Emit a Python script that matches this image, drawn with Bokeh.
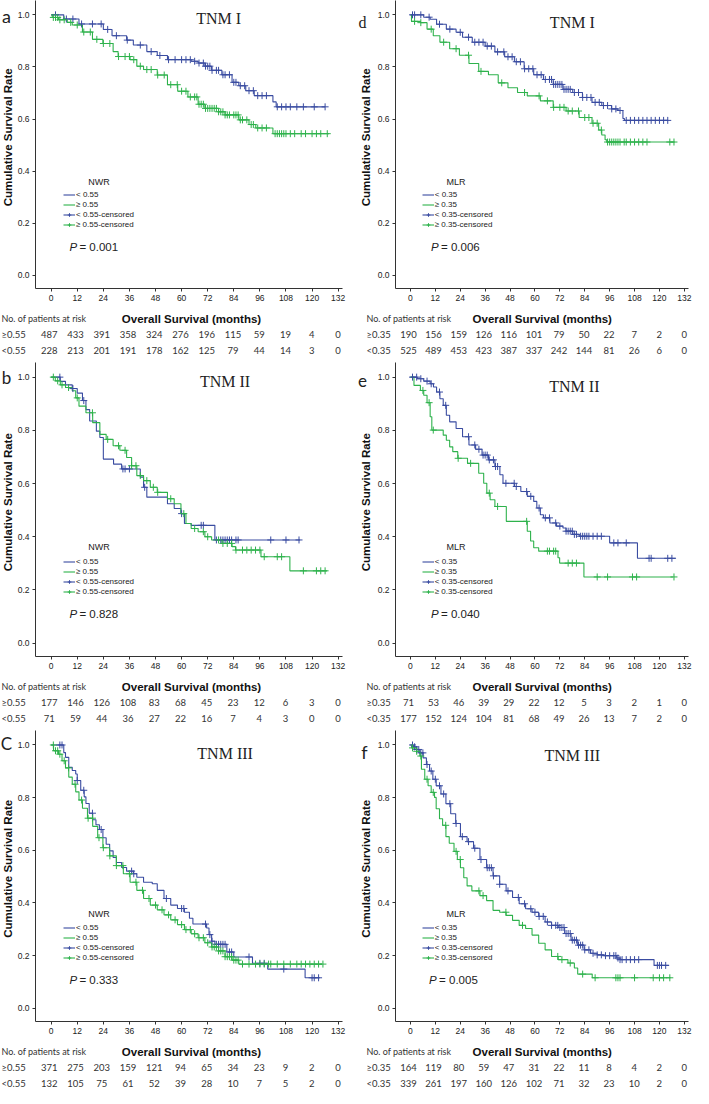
import numpy as np
from bokeh.plotting import figure
from bokeh.models import (Legend, LegendItem, Label, FixedTicker, NumeralTickFormatter, Range1d)
from bokeh.layouts import column, row
from bokeh.embed import file_html
from bokeh.resources import INLINE
from bokeh.core.properties import value

# ---------------- data ----------------
MONTH_TICKS = [0, 12, 24, 36, 48, 60, 72, 84, 96, 108, 120, 132]
SURV_TICKS = [0.0, 0.2, 0.4, 0.6, 0.8, 1.0]

# Panel a : NWR, TNM I
A_LOW_T = [0, 5.8, 12.8, 24, 28, 34.7, 37.8, 44, 48.8, 53.5, 64.4, 67.6, 70.7, 73.8, 78.5, 83.2, 86.3, 89.5, 93.4, 102, 103.5, 126]
A_LOW_S = [1.0, 0.984, 0.965, 0.944, 0.92, 0.903, 0.884, 0.859, 0.844, 0.828, 0.822, 0.815, 0.803, 0.787, 0.77, 0.741, 0.728, 0.709, 0.69, 0.666, 0.647, 0.647]
A_LOW_C = [2, 7, 10, 14, 19, 23, 26, 30, 35, 41, 46, 50, 54, 57, 60, 62, 64, 66, 68, 70, 71, 72, 73, 74, 76, 77, 79, 80, 82, 84, 85, 87, 89, 91, 93, 95, 97, 99, 104, 106, 108, 110, 113, 116, 121, 126]
A_HIGH_T = [0, 0.5, 3.4, 7.4, 9.7, 14.4, 19, 23.8, 28.5, 30.8, 36.3, 39.4, 42.5, 48.8, 53.5, 58.2, 62.9, 67.6, 70.7, 77, 80, 86.3, 91, 94.1, 102, 127.8]
A_HIGH_S = [1.0, 0.99, 0.981, 0.971, 0.961, 0.934, 0.906, 0.89, 0.859, 0.84, 0.828, 0.803, 0.79, 0.769, 0.732, 0.707, 0.685, 0.657, 0.641, 0.628, 0.616, 0.597, 0.579, 0.566, 0.544, 0.544]
A_HIGH_C = [1, 2, 3, 4, 6, 9, 12, 15, 18, 21, 24, 27, 31, 34, 36, 38, 41, 44, 46, 49, 52, 55, 58, 60, 62, 64, 66, 67, 68, 69, 70, 71, 72, 73, 74, 75, 76, 77, 78, 79, 80, 81, 82, 84, 85, 86, 87, 88, 90, 92, 93, 95, 97, 99, 103, 104, 105, 106, 107, 108, 110, 112, 115, 117, 120, 122, 124, 127]
A_RISK_HIGH = [487, 433, 391, 358, 324, 276, 196, 115, 59, 19, 4, 0]
A_RISK_LOW = [228, 213, 201, 191, 178, 162, 125, 79, 44, 14, 3, 0]

# Panel b : NWR, TNM II
B_LOW_T = [0, 4.2, 6.6, 9.7, 12, 14.4, 16, 17.7, 20.8, 22.4, 24, 28.7, 32.4, 41, 42.5, 44, 53.5, 56.6, 59.7, 61.3, 64.4, 75.3, 114.5]
B_LOW_S = [1.0, 0.984, 0.971, 0.957, 0.94, 0.912, 0.878, 0.835, 0.797, 0.773, 0.692, 0.673, 0.655, 0.624, 0.586, 0.549, 0.524, 0.506, 0.487, 0.45, 0.443, 0.388, 0.388]
B_LOW_C = [4, 10, 15, 33, 34, 36, 43, 60, 69, 70, 76, 78, 79, 80, 81, 82, 83, 85, 86, 101, 108, 114]
B_HIGH_T = [0, 1.9, 4.2, 6.6, 9.7, 11.3, 12.8, 16, 19.1, 22.4, 25.3, 28.5, 31.6, 34.7, 37, 39.4, 42.5, 45.6, 48.8, 53.5, 56.6, 59.7, 62, 64.4, 67.6, 70.7, 73.8, 78.5, 83.2, 84.8, 96.5, 109.8, 126.9]
B_HIGH_S = [1.0, 0.986, 0.971, 0.961, 0.949, 0.922, 0.891, 0.866, 0.829, 0.785, 0.766, 0.742, 0.725, 0.698, 0.667, 0.63, 0.611, 0.586, 0.567, 0.543, 0.524, 0.487, 0.45, 0.431, 0.419, 0.4, 0.388, 0.375, 0.363, 0.35, 0.325, 0.272, 0.272]
B_HIGH_C = [1, 3, 5, 8, 12, 19, 26, 31, 34, 37, 39, 41, 44, 47, 49, 55, 61, 66, 70, 72, 77, 79, 81, 83, 85, 88, 90, 92, 94, 96, 98, 104, 106, 116, 122, 124, 126]
B_RISK_HIGH = [177, 146, 126, 108, 83, 68, 45, 23, 12, 6, 3, 0]
B_RISK_LOW = [71, 59, 44, 36, 27, 22, 16, 7, 4, 3, 0, 0]

# Panel c : NWR, TNM III
C_LOW_T = [0, 5.8, 6.6, 8.1, 9.7, 11.3, 12, 13.6, 15.2, 16, 17.5, 19.1, 20.6, 22.2, 23.8, 25.3, 26.9, 28.5, 30, 32.4, 34.7, 37.8, 39.4, 42.5, 46.5, 48.8, 51.9, 55, 58.1, 61.3, 63.6, 65.2, 71.5, 72.6, 73.8, 75.3, 80.8, 84, 92.6, 99.6, 116.8, 123.6]
C_LOW_S = [1.0, 0.971, 0.953, 0.915, 0.903, 0.89, 0.865, 0.828, 0.803, 0.778, 0.741, 0.716, 0.697, 0.679, 0.648, 0.623, 0.598, 0.573, 0.554, 0.535, 0.521, 0.511, 0.498, 0.479, 0.473, 0.448, 0.417, 0.392, 0.379, 0.365, 0.342, 0.32, 0.305, 0.28, 0.255, 0.243, 0.214, 0.195, 0.171, 0.149, 0.116, 0.116]
C_LOW_C = [4, 5, 12, 15, 19, 23, 37, 38, 53, 60, 61, 71, 73, 74, 76, 77, 78, 79, 80, 82, 83, 91, 96, 98, 107, 120, 121, 123]
C_HIGH_T = [0, 1.1, 3.4, 5, 6.6, 8.1, 9.7, 11.3, 12.8, 14.4, 16.7, 19.1, 21.4, 23.8, 26.9, 30, 33.2, 36.3, 39.4, 42.5, 45.6, 48.8, 51.9, 55, 58.1, 61.3, 64.4, 67.6, 70.7, 73.8, 77, 80, 83.2, 86.3, 124.6]
C_HIGH_S = [1.0, 0.978, 0.965, 0.94, 0.913, 0.878, 0.851, 0.822, 0.791, 0.76, 0.722, 0.691, 0.648, 0.61, 0.579, 0.542, 0.511, 0.479, 0.448, 0.417, 0.392, 0.374, 0.355, 0.336, 0.318, 0.299, 0.283, 0.268, 0.249, 0.233, 0.218, 0.196, 0.183, 0.168, 0.168]
C_HIGH_C = [1, 2, 3, 4, 6, 8, 11, 14, 17, 19, 22, 24, 27, 30, 33, 36, 39, 42, 45, 48, 51, 54, 57, 60, 62, 64, 66, 68, 70, 72, 74, 75, 76, 77, 78, 79, 80, 81, 82, 83, 84, 85, 86, 88, 91, 94, 96, 98, 100, 101, 104, 107, 110, 113, 115, 117, 119, 121, 123, 125]
C_RISK_HIGH = [371, 275, 203, 159, 121, 94, 65, 34, 23, 9, 2, 0]
C_RISK_LOW = [132, 105, 75, 61, 52, 39, 28, 10, 7, 5, 2, 0]

# Panel d : MLR, TNM I
D_LOW_T = [0, 6.4, 9.5, 12.6, 17.3, 22, 25.1, 29.8, 36, 40.7, 45.4, 50.1, 54.8, 59.4, 64.1, 68.8, 73.5, 78.2, 82.9, 87.5, 92.2, 96.9, 100, 102.4, 103.1, 124.2]
D_LOW_S = [1.0, 0.991, 0.983, 0.964, 0.945, 0.933, 0.914, 0.895, 0.88, 0.858, 0.839, 0.82, 0.793, 0.77, 0.752, 0.733, 0.714, 0.702, 0.683, 0.664, 0.652, 0.639, 0.633, 0.602, 0.595, 0.595]
D_LOW_C = [1, 2, 5, 9, 14, 19, 24, 28, 31, 33, 35, 37, 39, 42, 45, 47, 49, 51, 53, 55, 57, 59, 61, 63, 65, 67, 68, 69, 70, 71, 72, 73, 74, 75, 76, 77, 79, 81, 83, 85, 87, 89, 91, 93, 95, 97, 99, 101, 104, 106, 108, 110, 112, 114, 116, 118, 120, 122, 124]
D_HIGH_T = [0, 0.5, 4.8, 8, 11, 14.2, 18.9, 23.6, 28.2, 32.9, 37.6, 42.3, 47, 51.6, 56.3, 62.6, 68.8, 75, 81.3, 87.5, 90.7, 92.2, 93.8, 94.6, 127.3]
D_HIGH_S = [1.0, 0.975, 0.97, 0.945, 0.92, 0.895, 0.87, 0.845, 0.813, 0.783, 0.77, 0.739, 0.72, 0.702, 0.689, 0.67, 0.645, 0.631, 0.606, 0.584, 0.558, 0.539, 0.521, 0.512, 0.512]
D_HIGH_C = [2, 5, 10, 16, 22, 28, 34, 44, 55, 62, 66, 69, 72, 74, 76, 78, 81, 84, 86, 88, 90, 92, 95, 96, 97, 98, 99, 100, 101, 103, 104, 106, 108, 110, 112, 114, 125, 127]
D_RISK_HIGH = [190, 156, 159, 126, 116, 101, 79, 50, 22, 7, 2, 0]
D_RISK_LOW = [525, 489, 453, 423, 387, 337, 242, 144, 81, 26, 6, 0]

# Panel e : MLR, TNM II
E_LOW_T = [0, 3.3, 6.4, 9.5, 11.1, 12.6, 14.2, 15.8, 17.3, 18.9, 22, 25.1, 28.2, 31.4, 34.5, 37.6, 40.7, 43.1, 44.6, 50.1, 53.2, 56.3, 59.4, 60.9, 62.6, 64.1, 67.2, 70.4, 73.5, 75, 78.2, 81.3, 96, 109.4, 128]
E_LOW_S = [1.0, 0.994, 0.985, 0.975, 0.963, 0.944, 0.919, 0.894, 0.857, 0.832, 0.807, 0.776, 0.745, 0.729, 0.707, 0.689, 0.664, 0.633, 0.601, 0.589, 0.57, 0.552, 0.533, 0.508, 0.483, 0.471, 0.452, 0.44, 0.433, 0.421, 0.409, 0.402, 0.377, 0.319, 0.319]
E_LOW_C = [1, 3, 5, 8, 10, 14, 17, 28, 31, 33, 35, 36, 37, 38, 40, 41, 42, 46, 50, 51, 56, 58, 62, 65, 67, 70, 72, 75, 76, 77, 78, 79, 80, 82, 83, 84, 85, 86, 88, 90, 92, 98, 100, 104, 115, 116, 124, 126]
E_HIGH_T = [0, 1.7, 4.8, 6.4, 8, 9.5, 10.3, 15.8, 17.3, 18.9, 20.4, 22.8, 27.5, 32.9, 35.3, 36.8, 38.4, 40.7, 46.2, 56.3, 57.9, 59.4, 61.8, 71.1, 71.9, 83.6, 126.5]
E_HIGH_S = [1.0, 0.969, 0.95, 0.932, 0.904, 0.851, 0.801, 0.782, 0.763, 0.738, 0.72, 0.695, 0.676, 0.639, 0.601, 0.564, 0.539, 0.514, 0.458, 0.421, 0.384, 0.359, 0.346, 0.321, 0.301, 0.249, 0.249]
E_HIGH_C = [6, 9, 11, 23, 29, 38, 42, 56, 66, 67, 69, 70, 76, 78, 80, 90, 95, 107, 109, 127]
E_RISK_HIGH = [71, 53, 46, 39, 29, 22, 12, 5, 3, 2, 1, 0]
E_RISK_LOW = [177, 152, 124, 104, 81, 68, 49, 26, 13, 7, 2, 0]

# Panel f : MLR, TNM III
F_LOW_T = [0, 1.4, 3, 4.5, 6.1, 7.7, 9.2, 10.8, 12.4, 14.7, 17.1, 19.4, 21.8, 24.1, 27.3, 30.4, 33.5, 36.7, 39.8, 43, 46.1, 49.2, 52.4, 55.5, 58.6, 61.8, 64.9, 68, 71.2, 74.3, 77.4, 80.6, 83.7, 86.8, 90, 93.1, 99.4, 101, 117.4, 124.5]
F_LOW_S = [1.0, 0.993, 0.983, 0.97, 0.951, 0.926, 0.901, 0.87, 0.845, 0.814, 0.777, 0.739, 0.702, 0.652, 0.633, 0.608, 0.565, 0.534, 0.503, 0.471, 0.446, 0.421, 0.397, 0.378, 0.365, 0.349, 0.328, 0.315, 0.307, 0.284, 0.259, 0.24, 0.222, 0.209, 0.203, 0.2, 0.191, 0.185, 0.163, 0.163]
F_LOW_C = [1, 2, 3, 4, 5, 6, 8, 10, 12, 14, 16, 19, 22, 25, 28, 31, 34, 37, 38, 39, 40, 43, 47, 52, 55, 58, 60, 62, 64, 66, 68, 70, 71, 72, 73, 74, 75, 76, 77, 78, 79, 80, 81, 82, 83, 84, 86, 88, 90, 92, 94, 96, 98, 99, 100, 101, 102, 104, 106, 108, 110, 119, 120, 121, 123]
F_HIGH_T = [0, 0.6, 3, 4.5, 5.3, 6.9, 8.5, 10, 11.6, 12.4, 14, 15.5, 17.1, 18.7, 21, 22.6, 24.1, 25.7, 27.3, 29.6, 33.5, 36.7, 39.8, 43, 46.1, 49.2, 52.4, 55.5, 58.6, 61.8, 64.9, 68, 71.2, 75.9, 79, 80.6, 87.6, 125.3]
F_HIGH_S = [1.0, 0.989, 0.976, 0.958, 0.908, 0.87, 0.845, 0.82, 0.801, 0.758, 0.72, 0.695, 0.652, 0.627, 0.596, 0.565, 0.534, 0.496, 0.465, 0.446, 0.428, 0.409, 0.372, 0.365, 0.353, 0.334, 0.315, 0.303, 0.278, 0.247, 0.222, 0.197, 0.185, 0.172, 0.153, 0.13, 0.116, 0.116]
F_HIGH_C = [1, 3, 5, 8, 11, 17, 22, 24, 33, 35, 46, 54, 71, 73, 77, 83, 89, 99, 100, 101, 108, 117, 120, 122, 125]
F_RISK_HIGH = [164, 119, 80, 59, 47, 31, 22, 11, 8, 4, 2, 0]
F_RISK_LOW = [339, 261, 197, 160, 126, 102, 71, 32, 23, 10, 2, 0]

# ---------------- style ----------------
BLUE = "#3a4ca1"
GREEN = "#2eb24c"
SANS = "Liberation Sans"
SERIF = "Liberation Serif"
ROUND = "Lato"
TXT = "#222222"
X0, X1, Y0, Y1 = -7.2, 134.0, -0.05, 1.055
MBL, MBB = 19, 17
TABLE_H = 50


def step_value(ts, ss, t):
    i = int(np.searchsorted(np.asarray(ts), t, side="right")) - 1
    return ss[max(i, 0)]


def style_axis(ax):
    ax.axis_line_color = "#333333"
    ax.major_tick_line_color = "#333333"
    ax.minor_tick_line_color = None
    ax.major_tick_out = 3
    ax.major_tick_in = 0
    ax.major_label_text_font = SANS
    ax.major_label_text_font_size = "8.5px"
    ax.major_label_text_color = TXT
    ax.major_label_standoff = 3


def bare(fig):
    fig.outline_line_color = None
    fig.grid.visible = False
    fig.background_fill_color = "white"
    fig.border_fill_color = "white"


def make_panel(letter, letter_font, letter_size, letter_x, letter_dy,
               title, title_x, title_y, var, cut,
               lo_t, lo_s, lo_c, hi_t, hi_s, hi_c, pval, risk_hi, risk_lo,
               W, H, strip_w, ylab_x, mbr, mbt, row_x, p_x, xlab_x):
    main_w = W - strip_w
    main_h = H - TABLE_H
    fw = main_w - MBL - mbr
    fh = main_h - mbt - MBB

    def sx(t):
        return (t - X0) / (X1 - X0) * fw

    def sy(y):
        return (y - Y0) / (Y1 - Y0) * fh

    # ---- strip: panel letter + y-axis title ----
    s = figure(width=strip_w, height=main_h, x_range=Range1d(0, strip_w), y_range=Range1d(Y0, Y1),
               x_axis_type=None, y_axis_type=None, output_backend="svg", toolbar_location=None,
               min_border_left=0, min_border_right=0, min_border_top=mbt, min_border_bottom=MBB)
    bare(s)
    s.text(x=[letter_x], y=[Y1], text=[letter], y_offset=letter_dy,
           text_align="center", text_baseline="alphabetic",
           text_font=value(letter_font), text_font_size=letter_size, text_color=TXT)
    s.text(x=[ylab_x], y=[0.53], text=["Cumulative Survival Rate"], angle=np.pi / 2,
           text_align="center", text_baseline="middle", text_font=value(SANS),
           text_font_style="bold", text_font_size="11.5px", text_color="#111111")

    # ---- survival plot ----
    p = figure(width=main_w, height=main_h, x_range=Range1d(X0, X1), y_range=Range1d(Y0, Y1),
               output_backend="svg", toolbar_location=None,
               min_border_left=MBL, min_border_right=mbr,
               min_border_top=mbt, min_border_bottom=MBB)
    bare(p)
    p.xaxis.ticker = FixedTicker(ticks=MONTH_TICKS)
    p.yaxis.ticker = FixedTicker(ticks=SURV_TICKS)
    p.yaxis.formatter = NumeralTickFormatter(format="0.0")
    style_axis(p.xaxis[0])
    style_axis(p.yaxis[0])

    lo_line = p.step(x=lo_t, y=lo_s, mode="after", line_color=BLUE, line_width=1.1)
    hi_line = p.step(x=hi_t, y=hi_s, mode="after", line_color=GREEN, line_width=1.1)
    lo_cy = [step_value(lo_t, lo_s, c) for c in lo_c]
    hi_cy = [step_value(hi_t, hi_s, c) for c in hi_c]
    lo_cr = p.scatter(x=lo_c, y=lo_cy, marker="cross", size=7, line_color=BLUE, line_width=1)
    hi_cr = p.scatter(x=hi_c, y=hi_cy, marker="cross", size=7, line_color=GREEN, line_width=1)

    legend = Legend(items=[
        LegendItem(label="< " + cut, renderers=[lo_line]),
        LegendItem(label="\u2265 " + cut, renderers=[hi_line]),
        LegendItem(label="< " + cut + "-censored", renderers=[lo_line, lo_cr]),
        LegendItem(label="\u2265 " + cut + "-censored", renderers=[hi_line, hi_cr]),
    ], location=(sx(5.6), sy(0.175)))
    legend.label_text_font = SANS
    legend.label_text_font_size = "8px"
    legend.label_text_color = TXT
    legend.label_height = 9
    legend.glyph_height = 9
    legend.glyph_width = 12
    legend.label_standoff = 1
    legend.spacing = 1
    legend.padding = 0
    legend.margin = 0
    legend.border_line_color = None
    legend.background_fill_alpha = 0
    p.add_layout(legend)

    p.add_layout(Label(x=22, y=0.36, text=var, text_align="center", text_baseline="middle",
                       text_font=SANS, text_font_size="9px", text_color=TXT))
    p.add_layout(Label(x=p_x, y=0.108, text="P", text_baseline="middle",
                       text_font=SANS, text_font_style="italic", text_font_size="11.5px",
                       text_color=TXT))
    p.add_layout(Label(x=p_x, y=0.108, x_offset=10, text="= " + pval, text_baseline="middle",
                       text_font=SANS, text_font_size="11.5px", text_color=TXT))
    p.add_layout(Label(x=title_x, y=title_y, text=title, text_align="center",
                       text_baseline="middle", text_font=SERIF, text_font_size="16px",
                       text_color=TXT))

    # ---- number-at-risk table (months aligned with the plot above) ----
    pxpm = fw / (X1 - X0)
    XL = X0 - (strip_w + MBL) / pxpm
    XR = X1 + mbr / pxpm
    t = figure(width=W, height=TABLE_H, x_range=Range1d(XL, XR), y_range=Range1d(TABLE_H, 0),
               x_axis_type=None, y_axis_type=None, output_backend="svg", toolbar_location=None,
               min_border=0)
    bare(t)
    t.text(x=[XL], y=[13], x_offset=row_x, text=["No. of patients at risk"],
           text_baseline="middle", text_font=value(ROUND), text_font_size="9px",
           text_color="#333333")
    t.text(x=[xlab_x], y=[13], text=["Overall Survival (months)"], text_align="center",
           text_baseline="middle", text_font=value(SANS), text_font_style="bold",
           text_font_size="11.5px", text_color="#111111")
    for lab, vals, yy in (("\u2265" + cut, risk_hi, 29), ("<" + cut, risk_lo, 45)):
        t.text(x=[XL], y=[yy], x_offset=row_x, text=[lab], text_baseline="middle",
               text_font=value(ROUND), text_font_size="9.5px", text_color="#333333")
        t.text(x=MONTH_TICKS, y=[yy] * len(vals), text=[str(v) for v in vals],
               text_align="center", text_baseline="middle",
               text_font=value(ROUND), text_font_size="9.5px", text_color="#333333")

    return column(row(s, p), t)


LW, RW = 350, 343
H1, H2, H3 = 355, 368, 365
pa = make_panel("a", ROUND, "18px", 6, 15, "TNM I", 77, 0.985, "NWR", "0.55",
                A_LOW_T, A_LOW_S, A_LOW_C, A_HIGH_T, A_HIGH_S, A_HIGH_C, "0.001",
                A_RISK_HIGH, A_RISK_LOW, LW, H1, 14, 7, 8, 0, 1, 8.4, 65)
pd = make_panel("d", SERIF, "16px", 12, 22, "TNM I", 78, 0.97, "MLR", "0.35",
                D_LOW_T, D_LOW_S, D_LOW_C, D_HIGH_T, D_HIGH_S, D_HIGH_C, "0.006",
                D_RISK_HIGH, D_RISK_LOW, RW, H1, 24, 15, 5, 0, 16, 9.9, 64)
pb = make_panel("b", ROUND, "17px", 6, 15, "TNM II", 80, 0.985, "NWR", "0.55",
                B_LOW_T, B_LOW_S, B_LOW_C, B_HIGH_T, B_HIGH_S, B_HIGH_C, "0.828",
                B_RISK_HIGH, B_RISK_LOW, LW, H2, 14, 7, 8, 7, 1, 8.4, 65)
pe = make_panel("e", ROUND, "17px", 12, 18, "TNM II", 79, 0.963, "MLR", "0.35",
                E_LOW_T, E_LOW_S, E_LOW_C, E_HIGH_T, E_HIGH_S, E_HIGH_C, "0.040",
                E_RISK_HIGH, E_RISK_LOW, RW, H2, 24, 15, 5, 7, 16, 9.9, 64)
pc = make_panel("C", ROUND, "17px", 6, 13, "TNM III", 80, 0.966, "NWR", "0.55",
                C_LOW_T, C_LOW_S, C_LOW_C, C_HIGH_T, C_HIGH_S, C_HIGH_C, "0.333",
                C_RISK_HIGH, C_RISK_LOW, LW, H3, 14, 7, 8, 7, 1, 8.4, 65)
pf = make_panel("f", ROUND, "18px", 14, 21, "TNM III", 78, 0.96, "MLR", "0.35",
                F_LOW_T, F_LOW_S, F_LOW_C, F_HIGH_T, F_HIGH_S, F_HIGH_C, "0.005",
                F_RISK_HIGH, F_RISK_LOW, RW, H3, 24, 15, 5, 7, 16, 9.0, 64)

layout = column(row(pa, pd), row(pb, pe), row(pc, pf))
open("out.html", "w").write(file_html(layout, INLINE))
